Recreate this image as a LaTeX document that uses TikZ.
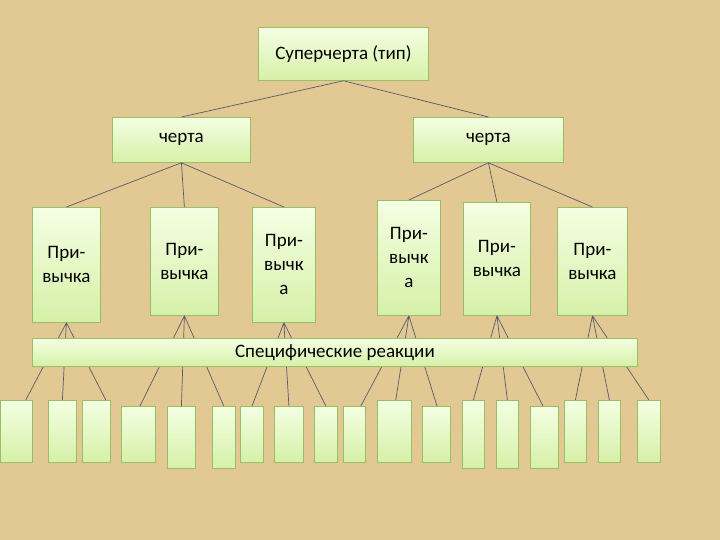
\documentclass[tikz,border=0pt]{standalone}
\usepackage{fontspec}
\setmainfont{Carlito}
\definecolor{bg}{RGB}{226,200,146}
\definecolor{bxtop}{RGB}{244,255,226}
\definecolor{bxbot}{RGB}{214,240,168}
\definecolor{bxdraw}{RGB}{150,192,100}
\definecolor{ln}{RGB}{85,92,110}
\begin{document}
\begin{tikzpicture}[x=1pt,y=-1pt,
  bx/.style={draw=bxdraw,line width=0.8pt,top color=bxtop,bottom color=bxbot,inner sep=0pt,font=\fontsize{19}{24}\selectfont,align=center},
  cn/.style={draw=ln,line width=0.7pt}]
\fill[bg] (0,0) rectangle (720,540);
\useasboundingbox (0,0) rectangle (720,540);
\newcommand\bb[6]{\node[bx,minimum width=#4-#2,minimum height=#5-#3,anchor=north west] (#1) at (#2,#3) {#6};}
\bb{sup}{258}{27}{428}{80}{Суперчерта (тип)}
\bb{c1}{112}{117}{250}{162}{черта}
\bb{c2}{413}{117}{563}{162}{черта}
\bb{h1}{32}{207}{100}{322}{При-\\вычка}
\bb{h2}{150}{207}{218}{315}{При-\\вычка}
\bb{h3}{252}{207}{315}{322}{При-\\вычк\\а}
\bb{h4}{377}{200}{440}{315}{При-\\вычк\\а}
\bb{h5}{463}{202}{530}{315}{При-\\вычка}
\bb{h6}{557}{207}{627}{315}{При-\\вычка}
\bb{b1}{0}{400}{32}{462}{}
\bb{b2}{48}{400}{76}{462}{}
\bb{b3}{82}{400}{110}{462}{}
\bb{b4}{121}{406}{155}{462}{}
\bb{b5}{167}{406}{195}{468}{}
\bb{b6}{212}{406}{235}{468}{}
\bb{b7}{240}{406}{263}{462}{}
\bb{b8}{274}{406}{303}{462}{}
\bb{b9}{314}{406}{337}{462}{}
\bb{b10}{343}{406}{365}{462}{}
\bb{b11}{377}{400}{411}{462}{}
\bb{b12}{422}{406}{450}{462}{}
\bb{b13}{462}{400}{484}{468}{}
\bb{b14}{496}{400}{518}{468}{}
\bb{b15}{530}{406}{558}{468}{}
\bb{b16}{564}{400}{586}{462}{}
\bb{b17}{598}{400}{620}{462}{}
\bb{b18}{637}{400}{660}{462}{}
\draw[cn] (sup.south) -- (c1.north);
\draw[cn] (sup.south) -- (c2.north);
\foreach \h in {h1,h2,h3} \draw[cn] (c1.south) -- (\h.north);
\foreach \h in {h4,h5,h6} \draw[cn] (c2.south) -- (\h.north);
\draw[cn] (h1.south) -- ([xshift=-7pt]b1.north east) (h1.south) -- (b2.north) (h1.south) -- ([xshift=-5pt]b3.north east);
\draw[cn] (h2.south) -- ([xshift=19pt]b4.north west) (h2.south) -- (b5.north) (h2.south) -- ([xshift=-12pt]b6.north east);
\draw[cn] (h3.south) -- ([xshift=12pt]b7.north west) (h3.south) -- (b8.north) (h3.south) -- (b9.north);
\draw[cn] (h4.south) -- ([xshift=-5pt]b10.north east) (h4.south) -- ([xshift=-16pt]b11.north east) (h4.south) -- ([xshift=15pt]b12.north west);
\draw[cn] (h5.south) -- (b13.north) (h5.south) -- (b14.north) (h5.south) -- ([xshift=13pt]b15.north west);
\draw[cn] (h6.south) -- (b16.north) (h6.south) -- (b17.north) (h6.south) -- (b18.north);
\node[bx,minimum width=605,minimum height=28,anchor=north west] (sr) at (32,338) {Специфические реакции};
\end{tikzpicture}
\end{document}
